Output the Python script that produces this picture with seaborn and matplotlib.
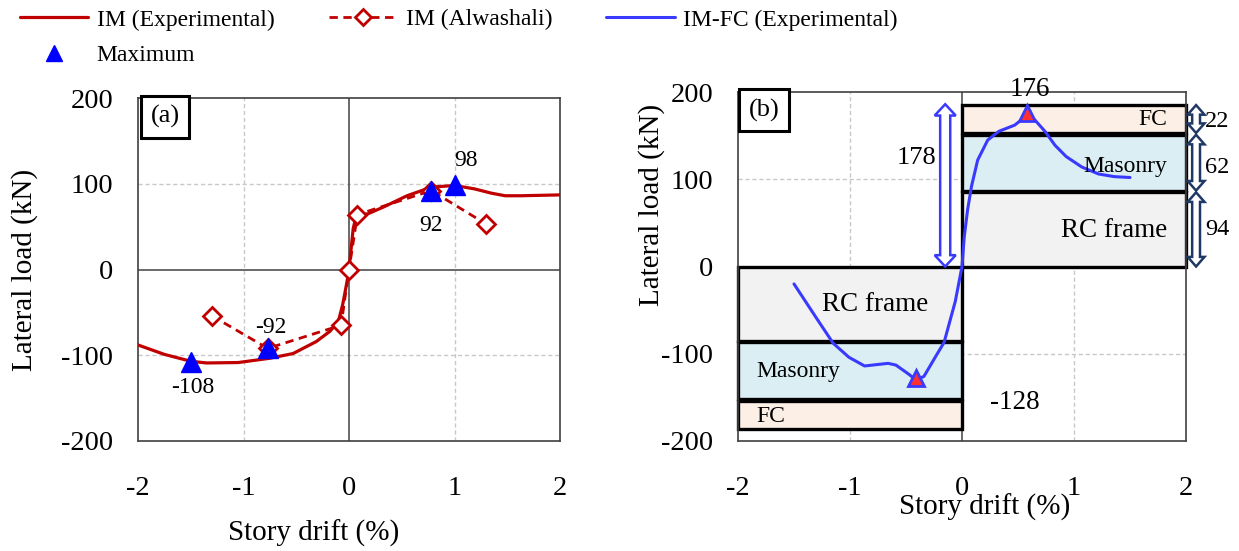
import matplotlib
matplotlib.use("Agg")
import matplotlib.pyplot as plt
import seaborn as sns
import numpy as np
from matplotlib.lines import Line2D
from matplotlib.patches import Polygon

# ---------------- data ----------------
# Panel (a)
x_exp = [-2.0, -1.75, -1.5, -1.35, -1.05, -0.75, -0.53, -0.31, -0.18, -0.1, -0.06, -0.02, 0.0,
         0.04, 0.07, 0.18, 0.33, 0.55, 0.78, 1.0, 1.19, 1.35, 1.48, 1.63, 2.0]
y_exp = [-88, -99, -107, -109, -108.5, -103.5, -98, -84, -72, -60, -41, -15, 0,
         48, 63, 65, 73, 86, 96, 98, 94, 89, 86, 86, 87]
x_alw = [-1.3, -0.77, -0.075, 0.0, 0.08, 0.78, 1.3]
y_alw = [-54, -92, -65, 0, 64, 92, 53]
x_max_a = [-1.5, -0.77, 0.78, 1.0]
y_max_a = [-108, -92, 92, 98]
lab_max_a = ["-108", "-92", "92", "98"]
lab_pos_a = [(-1.48, -138), (-0.74, -68), (0.78, 51), (1.11, 127)]

# Panel (b)
x_fc = [-1.5, -1.29, -1.15, -1.01, -0.87, -0.66, -0.59, -0.48, -0.41, -0.34, -0.23, -0.16, -0.06, 0.0,
        0.02, 0.05, 0.085, 0.14, 0.23, 0.33, 0.47, 0.58, 0.65, 0.74, 0.83, 0.93, 1.07, 1.22, 1.36, 1.5]
y_fc = [-20, -61, -88, -104, -114, -111, -113, -123, -130, -126, -102, -87, -40, 0,
        34, 65, 92, 122, 145, 155, 162, 173, 168, 155, 139, 126, 114, 106, 103, 102]
x_max_b = [-0.41, 0.58]
y_max_b = [-128, 176]
lab_max_b = ["-128", "176"]

comp_names = ["RC frame", "Masonry", "FC"]
comp_pos_bottom = [0, 87, 153]
comp_pos_top = [85, 151, 185]
comp_neg_bottom = [0, -87, -154]
comp_neg_top = [-85, -152, -186]
comp_colors = ["#f2f2f2", "#daeef3", "#fcefe6"]
comp_share = ["94", "62", "22"]
total_label = "178"

xticks = [-2, -1, 0, 1, 2]
yticks = [-200, -100, 0, 100, 200]

# ---------------- style ----------------
sns.set_theme(style="white")
plt.rcParams['font.family'] = ['Liberation Serif', 'DejaVu Serif']
plt.rcParams['axes.unicode_minus'] = False
plt.rcParams['text.color'] = 'black'
plt.rcParams['axes.labelcolor'] = 'black'
plt.rcParams['xtick.color'] = 'black'
plt.rcParams['ytick.color'] = 'black'

fig = plt.figure(figsize=(12.39, 5.51), dpi=100)
axa = fig.add_axes([138/1239, 1-441/551, 422/1239, 343/551])
axb = fig.add_axes([738/1239, 1-441/551, 448/1239, 349/551])

RED = "#c00000"
BLUE = "#3a3aff"
NAVY = "#1f3864"
TICK_FS = 20.5
LAB_FS = 21


def style_axes(ax):
    ax.set_xlim(-2, 2)
    ax.set_ylim(-200, 200)
    ax.set_xticks(xticks)
    ax.set_yticks(yticks)
    ax.set_xticklabels([str(t) for t in xticks], fontsize=TICK_FS)
    ax.set_yticklabels([str(t) for t in yticks], fontsize=TICK_FS)
    ax.tick_params(axis="x", length=0, pad=25, colors="black")
    ax.tick_params(axis="y", length=0, pad=18, colors="black")
    for v in [-1, 1]:
        ax.axvline(v, color="#c8c8c8", lw=1, ls=(0, (3, 2)), zorder=0)
    for v in [-100, 100]:
        ax.axhline(v, color="#c8c8c8", lw=1, ls=(0, (3, 2)), zorder=0)
    ax.axvline(0, color="#505050", lw=1.2, zorder=0.5)
    ax.axhline(0, color="#505050", lw=1.2, zorder=0.5)
    for s in ax.spines.values():
        s.set_color("#404040")
        s.set_linewidth(1.2)
    ax.set_xlabel("Story drift (%)", fontsize=LAB_FS, color="black")
    ax.set_ylabel("Lateral load (kN)", fontsize=LAB_FS, color="black")


def block_arrow(ax, x, y0, y1, w, hw, hl, ec, lw, z=5):
    pts = [(x, y0), (x + hw, y0 + hl), (x + w, y0 + hl), (x + w, y1 - hl), (x + hw, y1 - hl),
           (x, y1), (x - hw, y1 - hl), (x - w, y1 - hl), (x - w, y0 + hl), (x - hw, y0 + hl)]
    ax.add_patch(Polygon(pts, closed=True, fc="white", ec=ec, lw=lw, clip_on=False, zorder=z,
                         joinstyle="miter"))


# ---------------- panel (a) ----------------
style_axes(axa)
sns.lineplot(x=x_exp, y=y_exp, ax=axa, sort=False, estimator=None, color=RED, lw=2.3, zorder=3)
sns.lineplot(x=x_alw, y=y_alw, ax=axa, sort=False, estimator=None, color=RED, lw=2,
             linestyle=(0, (3, 2)), marker="D", markersize=9, markerfacecolor="white",
             markeredgecolor=RED, markeredgewidth=2, zorder=4)
axa.plot(x_max_a, y_max_a, ls="none", marker="^", markersize=15, color="#0000ff", zorder=5)
for lab, (lx, ly) in zip(lab_max_a, lab_pos_a):
    axa.text(lx, ly, lab, fontsize=17, ha="center", va="center", zorder=6)
axa.text(0.064, 0.945, "(a)", transform=axa.transAxes, fontsize=19, ha="center", va="center",
         bbox=dict(boxstyle="square,pad=0.35", fc="white", ec="black", lw=2.2), zorder=7)
axa.xaxis.set_label_coords(0.417, -0.268)
axa.xaxis.label.set_va("center")
axa.yaxis.set_label_coords(-0.268, 0.5)
axa.yaxis.label.set_va("center")

# ---------------- panel (b) ----------------
style_axes(axb)
pos_h = [t - b for b, t in zip(comp_pos_bottom, comp_pos_top)]
neg_h = [t - b for b, t in zip(comp_neg_bottom, comp_neg_top)]
axb.bar([0] * 3, pos_h, bottom=comp_pos_bottom, width=2, align="edge", color=comp_colors,
        edgecolor="black", linewidth=2.4, zorder=2, clip_on=False)
axb.bar([-2] * 3, neg_h, bottom=comp_neg_bottom, width=2, align="edge", color=comp_colors,
        edgecolor="black", linewidth=2.4, zorder=2, clip_on=False)

sns.lineplot(x=x_fc, y=y_fc, ax=axb, sort=False, estimator=None, color=BLUE, lw=2.2, zorder=4)
axb.plot(x_max_b, y_max_b, ls="none", marker="^", markersize=12, markerfacecolor="#ff3030",
         markeredgecolor=BLUE, markeredgewidth=2, zorder=5)

# component labels
axb.text(1.83, 169, comp_names[2], fontsize=17, ha="right", va="center", zorder=6)
axb.text(1.83, 115, comp_names[1], fontsize=17, ha="right", va="center", zorder=6)
axb.text(1.83, 41, comp_names[0], fontsize=19.5, ha="right", va="center", zorder=6)
axb.text(-0.78, -44, comp_names[0], fontsize=19.5, ha="center", va="center", zorder=6)
axb.text(-1.84, -120, comp_names[1], fontsize=17, ha="left", va="center", zorder=6)
axb.text(-1.84, -172, comp_names[2], fontsize=17, ha="left", va="center", zorder=6)

# max labels
axb.text(0.61, 203, lab_max_b[1], fontsize=19.5, ha="center", va="center", zorder=6)
axb.text(0.47, -156, lab_max_b[0], fontsize=19.5, ha="center", va="center", zorder=6)
axb.text(-0.41, 124, total_label, fontsize=19, ha="center", va="center", zorder=6)

# arrows
block_arrow(axb, -0.15, 0, 186, 0.045, 0.094, 13, BLUE, 1.8)
for b, t in zip(comp_pos_bottom, comp_pos_top):
    block_arrow(axb, 2.09, b, t, 0.035, 0.075, 11, NAVY, 1.8)
for lab, yy in zip(comp_share, [42, 114, 166]):
    axb.text(2.17, yy, lab, fontsize=17.5, ha="left", va="center", clip_on=False, zorder=6)

axb.text(0.058, 0.948, "(b)", transform=axb.transAxes, fontsize=19, ha="center", va="center",
         bbox=dict(boxstyle="square,pad=0.35", fc="white", ec="black", lw=2.2), zorder=7)
axb.xaxis.set_label_coords(0.551, -0.19)
axb.xaxis.label.set_va("center")
axb.yaxis.set_label_coords(-0.194, 0.676)
axb.yaxis.label.set_va("center")

# ---------------- legend ----------------
handles = [
    Line2D([], [], color=RED, lw=2.3),
    Line2D([], [], ls="none", marker="^", markersize=11, color="#0000ff"),
    Line2D([], [], color=RED, lw=2, ls=(0, (3, 2)), marker="D", markersize=8,
           markerfacecolor="white", markeredgecolor=RED, markeredgewidth=2),
    Line2D([], [], color=BLUE, lw=2.2),
]
labels = ["IM (Experimental)", "Maximum", "IM (Alwashali)", "IM-FC (Experimental)"]
fig.legend(handles, labels, loc="upper left", bbox_to_anchor=(20/1239, 1 - 9/551), ncol=3,
           frameon=False, fontsize=17, handlelength=2.9, handletextpad=0.35,
           columnspacing=2.3, labelspacing=0.6, borderpad=0, borderaxespad=0)

fig.savefig("out.png", dpi=100)
